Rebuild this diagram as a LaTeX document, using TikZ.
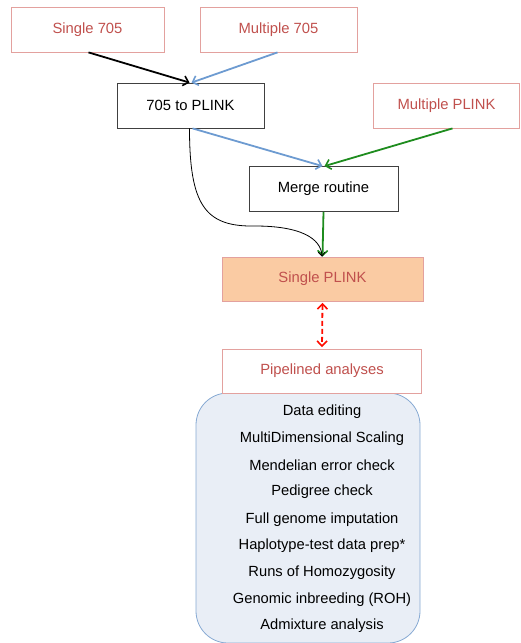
\documentclass[tikz,border=0pt]{standalone}
\usepackage{fontspec}
\setmainfont{Liberation Sans}
\usetikzlibrary{arrows.meta,calc}
\definecolor{redtxt}{HTML}{C0504D}
\definecolor{redline}{HTML}{E3A19E}
\definecolor{bluearr}{HTML}{6D9BD1}
\definecolor{greenarr}{HTML}{1E8C1E}
\definecolor{peach}{HTML}{FACBA3}
\definecolor{panelfill}{HTML}{E9EEF6}
\definecolor{panelline}{HTML}{86A9D3}
\begin{document}
\begin{tikzpicture}[x=1pt,y=-1pt,
  redbox/.style={draw=redline, line width=0.8pt, text=redtxt, minimum height=45pt, font=\fontsize{14.8}{17}\selectfont, inner sep=0pt},
  blkbox/.style={draw=black!75, line width=0.8pt, text=black, minimum height=45pt, font=\fontsize{14.8}{17}\selectfont, inner sep=0pt},
  arr/.style={line width=1.8pt, -{Straight Barb[length=5pt,width=10pt,line width=1.6pt]}},
  lst/.style={font=\fontsize{14.7}{17}\selectfont, anchor=center}
]
\useasboundingbox (0,0) rectangle (520,643);
\node[redbox, minimum width=153pt] (s705) at (87.5,29.5) {Single 705};
\node[redbox, minimum width=157pt] (m705) at (278.5,29.5) {Multiple 705};
\node[blkbox, minimum width=147pt] (p705) at (190.5,105.5) {705 to PLINK};
\node[redbox, minimum width=146pt] (mpl) at (446.5,105.5) {Multiple PLINK};
\node[blkbox, minimum width=149pt] (merge) at (323.5,189) {Merge routine};
\node[redbox, fill=peach, minimum width=201pt, minimum height=44pt] (spl) at (322.5,279) {Single PLINK};
\draw[draw=panelline, fill=panelfill, line width=0.8pt, rounded corners=32pt] (196,393) rectangle (420,643);
\node[redbox, fill=white, minimum width=199pt, minimum height=44pt] (pipe) at (322,371) {Pipelined analyses};
\node[lst] (l1) at (322,412) {Data editing};
\node[lst] (l2) at (322,439) {MultiDimensional Scaling};
\node[lst] (l3) at (322,465.5) {Mendelian error check};
\node[lst] (l4) at (322,492) {Pedigree check};
\node[lst] (l5) at (322,519.5) {Full genome imputation};
\node[lst] (l6) at (322,546) {Haplotype-test data prep*};
\node[lst] (l7) at (322,572.5) {Runs of Homozygosity};
\node[lst] (l8) at (322,599.5) {Genomic inbreeding (ROH)};
\node[lst] (l9) at (322,626) {Admixture analysis};
\draw[arr, black] ($(s705.south)+(1,0)$) -- ($(p705.north)+(-1,0)$);
\draw[arr, bluearr] ($(m705.south)+(-1,0)$) -- ($(p705.north)+(1,0)$);
\draw[arr, bluearr] ($(p705.south)+(2,0)$) -- ($(merge.north)+(-1,0)$);
\draw[arr, greenarr] ($(mpl.south)+(6,0)$) -- ($(merge.north)+(1,0)$);
\draw[arr, greenarr] (merge.south) -- (spl.north);
\draw[black, line width=0.8pt, -{Straight Barb[length=4pt,width=7pt]}] ($(p705.south)+(-1,0)$) .. controls (189.5,205) and (205,227) .. (255,226) .. controls (300,226) and (321,238) .. ($(spl.north)+(-0.5,0)$);
\draw[red!90!orange, line width=1.8pt, dash pattern=on 5pt off 3pt, {Straight Barb[length=5pt,width=10pt,line width=1.6pt]}-{Straight Barb[length=5pt,width=10pt,line width=1.6pt]}] ($(spl.south)+(0,1.5)$) -- ($(pipe.north)+(0,-1.5)$);
\end{tikzpicture}
\end{document}
